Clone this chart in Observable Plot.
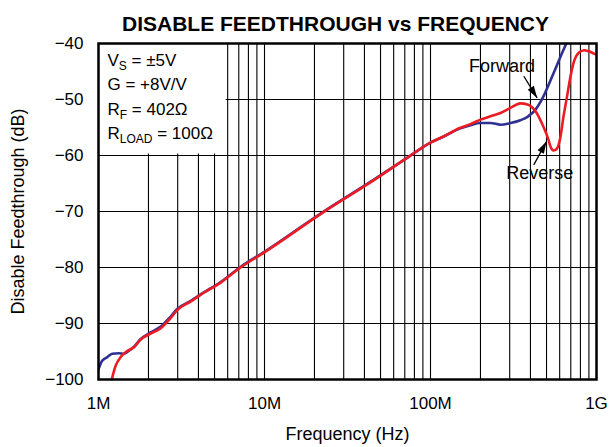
<!DOCTYPE html>
<html>
<head>
<meta charset="utf-8">
<script src="https://cdn.jsdelivr.net/npm/d3@7"></script>
<script src="https://cdn.jsdelivr.net/npm/@observablehq/plot@0.6"></script>
<style>
  html, body { margin: 0; padding: 0; background: white; }
</style>
</head>
<body>
<div id="chart"></div>
<script>
// ---- Data (frequency in MHz, feedthrough in dB) ----
const forwardFreq = [1.0, 1.05, 1.13, 1.21, 1.33, 1.42, 1.52, 1.63, 1.79, 2.06, 2.36, 2.71, 2.98, 3.58, 4.12, 5.5, 7.17, 10.1, 22.7, 45.6, 70, 100, 120, 150, 174, 200, 230, 264, 303, 348, 384, 429, 480, 551, 633, 668, 700];
const forwardDb   = [-98.2, -96.7, -96.0, -95.4, -95.3, -95.4, -94.9, -94.2, -92.8, -91.6, -90.6, -88.8, -87.4, -86.0, -84.8, -82.5, -79.9, -77.1, -70.0, -64.3, -60.7, -57.7, -56.6, -55.2, -54.6, -54.2, -54.2, -54.5, -54.2, -53.7, -53.1, -51.8, -49.4, -45.3, -41.1, -39.6, -38.5];

const reverseFreq = [1.19, 1.27, 1.36, 1.49, 1.63, 1.79, 2.06, 2.36, 2.71, 2.98, 3.58, 4.12, 5.5, 7.17, 10.1, 22.7, 45.6, 70, 100, 120, 150, 174, 200, 230, 264, 303, 348, 384, 429, 473, 514, 528, 551, 567, 585, 607, 633, 665, 697, 732, 785, 843, 900, 965, 1000];
const reverseDb   = [-100.5, -97.5, -96.0, -94.9, -94.3, -92.9, -91.8, -90.9, -89.1, -87.6, -86.1, -84.9, -82.6, -80.0, -77.2, -70.1, -64.4, -60.7, -57.7, -56.6, -55.1, -54.4, -53.6, -53.0, -52.4, -51.5, -50.7, -50.9, -52.1, -54.5, -57.2, -58.4, -59.1, -59.0, -58.5, -56.6, -53.0, -49.4, -45.9, -43.2, -41.6, -41.2, -41.4, -41.8, -42.0];

// ---- Axes ----
const xTickValues = [1, 10, 100, 1000];
const xTickLabels = ["1M", "10M", "100M", "1G"];
const xGrid = [1, 2, 3, 4, 5, 6, 7, 8, 9, 10, 20, 30, 40, 50, 60, 70, 80, 90, 100, 200, 300, 400, 500, 600, 700, 800, 900, 1000];
const yTicks = [-100, -90, -80, -70, -60, -50, -40];

// ---- Text ----
const titleText = "DISABLE FEEDTHROUGH vs FREQUENCY";
const xLabel = "Frequency (Hz)";
const yLabel = "Disable Feedthrough (dB)";
const conditionLines = ["V_S = ±5V", "G = +8V/V", "R_F = 402Ω", "R_LOAD = 100Ω"];

// ---- Annotations (data units) ----
const seriesLabels = [
  {text: "Forward", f: 270, db: -43.99},
  {text: "Reverse", f: 455, db: -63.16}
];
const arrows = [
  {f1: 365, db1: -45.85, f2: 439, db2: -49.72, angle: 148},
  {f1: 419, db1: -61.67, f2: 500, db2: -57.49, angle: 29}
];
const conditionBox = {f1: 1, f2: 6, db1: -60, db2: -40};

const forward = forwardFreq.map((f, i) => ({f, db: forwardDb[i]}));
const reverse = reverseFreq.map((f, i) => ({f, db: reverseDb[i]}));
const labelOf = new Map(xTickValues.map((v, i) => [v, xTickLabels[i]]));

const headSymbol = {
  draw(ctx) {
    ctx.moveTo(0, 0);
    ctx.lineTo(3.6, 12);
    ctx.lineTo(-3.6, 12);
    ctx.closePath();
  }
};

const chart = Plot.plot({
  width: 614,
  height: 447,
  marginLeft: 98,
  marginRight: 18,
  marginTop: 43,
  marginBottom: 68,
  style: {fontFamily: "'Liberation Sans', Arial, Helvetica, sans-serif", fontSize: "17px", color: "black", background: "white"},
  x: {type: "log", domain: [1, 1000], ticks: xTickValues, tickFormat: d => labelOf.get(d), tickSize: 0, tickPadding: 17, label: null},
  y: {domain: [-100, -40], ticks: yTicks, tickSize: 0, tickPadding: 15, label: null},
  marks: [
    Plot.ruleX(xGrid, {stroke: "black", strokeWidth: 1.1}),
    Plot.ruleY(yTicks, {stroke: "black", strokeWidth: 1.1}),
    Plot.rect([conditionBox], {x1: "f1", x2: "f2", y1: "db1", y2: "db2", fill: "white", insetBottom: 1.5, insetRight: 1.5}),
    Plot.text([conditionLines.join("\n")], {frameAnchor: "top-left", dx: 9, dy: 5.4, lineAnchor: "top", textAnchor: "start", lineHeight: 1.43, fontSize: 17}),
    Plot.line(forward, {x: "f", y: "db", stroke: "#2e3192", strokeWidth: 2.6, curve: "monotone-x", clip: true}),
    Plot.line(reverse, {x: "f", y: "db", stroke: "#ed1c24", strokeWidth: 2.6, curve: "monotone-x", clip: true}),
    Plot.link(arrows, {x1: "f1", y1: "db1", x2: "f2", y2: "db2", stroke: "black", strokeWidth: 1.3}),
    Plot.dot(arrows, {x: "f2", y: "db2", symbol: headSymbol, rotate: "angle", fill: "black", stroke: "none", r: 5}),
    Plot.text(seriesLabels, {x: "f", y: "db", text: "text", fontSize: 18}),
    Plot.frame({stroke: "black", strokeWidth: 2.5}),
    Plot.text([titleText], {frameAnchor: "top", lineAnchor: "middle", dx: -12, dy: -19.7, fontSize: 21, fontWeight: "bold"}),
    Plot.text([xLabel], {frameAnchor: "bottom", lineAnchor: "middle", dy: 55, fontSize: 18}),
    Plot.text([yLabel], {frameAnchor: "left", textAnchor: "middle", lineAnchor: "middle", dx: -80, rotate: -90, fontSize: 18})
  ]
});

// subscripts: "X_SUB" -> X with subscript SUB
const ns = "http://www.w3.org/2000/svg";
chart.querySelectorAll("text, tspan").forEach(el => {
  if (el.children.length) return;
  const s = el.textContent;
  if (!s.includes("_")) return;
  const parts = s.split(/_(\w+)/);
  el.textContent = "";
  let shifted = false;
  parts.forEach((p, i) => {
    if (!p) return;
    const t = document.createElementNS(ns, "tspan");
    t.textContent = p;
    if (i % 2) { t.setAttribute("dy", "4"); t.setAttribute("font-size", "12"); shifted = true; }
    else if (shifted) { t.setAttribute("dy", "-4"); shifted = false; }
    el.appendChild(t);
  });
});

document.getElementById("chart").appendChild(chart);
</script>
</body>
</html>
